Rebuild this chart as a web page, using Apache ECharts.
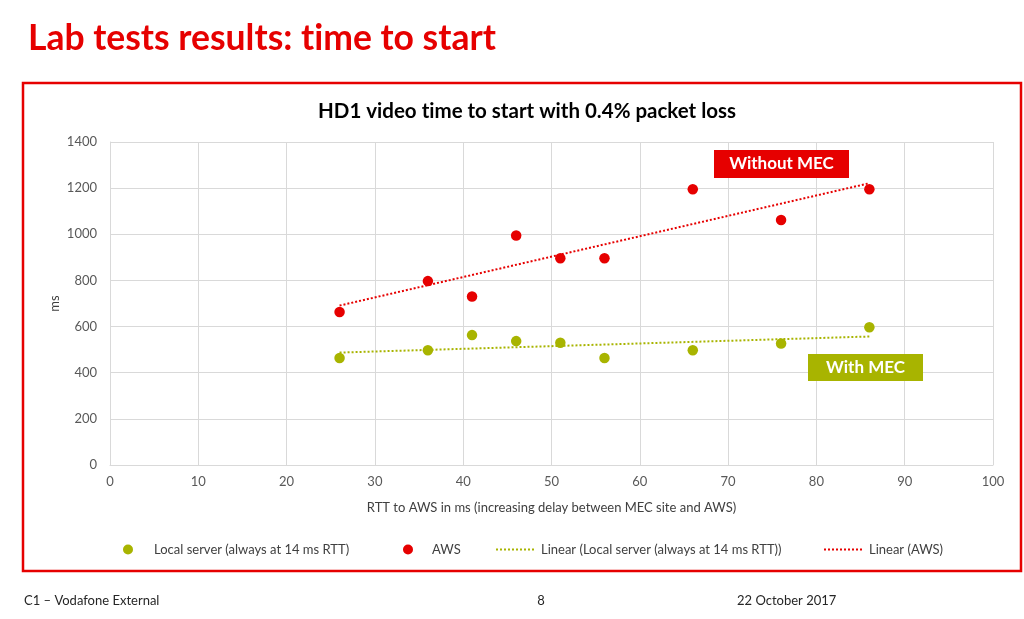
<!DOCTYPE html>
<html>
<head>
<meta charset="utf-8">
<script src="https://cdn.jsdelivr.net/npm/echarts@6/dist/echarts.min.js"></script>
<style>
html,body{margin:0;padding:0;background:#fff;}
#c{width:1024px;height:619px;}
</style>
</head>
<body>
<div id="c"></div>
<script>
// ---- data ----
const rttValues = [26, 36, 41, 46, 51, 56, 66, 76, 86];
const localServerMs = [464, 497, 563, 537, 530, 464, 497, 527, 597];
const awsMs = [663, 797, 730, 995, 896, 896, 1195, 1062, 1195];
const xTicks = [0, 10, 20, 30, 40, 50, 60, 70, 80, 90, 100];
const yTicks = [0, 200, 400, 600, 800, 1000, 1200, 1400];

const seriesNames = {
  local: 'Local server (always at 14 ms RTT)',
  aws: 'AWS',
  linLocal: 'Linear (Local server (always at 14 ms RTT))',
  linAws: 'Linear (AWS)'
};

const RED = '#e60000';
const GREEN = '#a8b400';
const FONT = 'Lato';
const ZWNJ = '\u200C'; // avoid the "ti" ligature of Lato

function pairs(xs, ys) { return xs.map((x, i) => [x, ys[i]]); }
// least-squares linear trendline (like Excel's "Linear" trendline)
function trend(xs, ys) {
  const n = xs.length;
  const mx = xs.reduce((a, b) => a + b, 0) / n;
  const my = ys.reduce((a, b) => a + b, 0) / n;
  let sxy = 0, sxx = 0;
  for (let i = 0; i < n; i++) { sxy += (xs[i] - mx) * (ys[i] - my); sxx += (xs[i] - mx) ** 2; }
  const b = sxy / sxx, a = my - b * mx;
  const x0 = Math.min(...xs), x1 = Math.max(...xs);
  return [[x0, a + b * x0], [x1, a + b * x1]];
}

const chart = echarts.init(document.getElementById('c'), null, {renderer: 'canvas'});

const legendBase = {
  orient: 'horizontal',
  top: 543,
  padding: 0,
  itemHeight: 10,
  textStyle: {fontFamily: FONT, fontSize: 13, color: '#404040'},
  selectedMode: false
};
function ts(pad) { return Object.assign({}, legendBase.textStyle, {padding: [0, 0, 0, pad]}); }

chart.setOption({
  backgroundColor: '#ffffff',
  animation: false,
  title: [
    {text: 'Lab tests results: t' + ZWNJ + 'ime to start', left: 23, top: 16,
     textStyle: {fontFamily: FONT, fontWeight: 'bold', fontSize: 35.5, color: RED}},
    {text: 'HD1 video t' + ZWNJ + 'ime to start with 0.4% packet loss', left: 313, top: 96,
     textStyle: {fontFamily: FONT, fontWeight: 'bold', fontSize: 20.5, color: '#000'}}
  ],
  grid: {left: 110, right: 31, top: 142, bottom: 154},
  xAxis: {
    type: 'value', min: xTicks[0], max: xTicks[xTicks.length - 1], interval: 10,
    name: 'RTT to AWS in ms (increasing delay between MEC site and AWS)',
    nameLocation: 'middle', nameGap: 36,
    nameTextStyle: {fontFamily: FONT, fontSize: 13, color: '#404040'},
    axisLine: {lineStyle: {color: '#d9d9d9', width: 1}},
    axisTick: {show: false},
    axisLabel: {fontFamily: FONT, fontSize: 13, color: '#595959', margin: 10},
    splitLine: {show: true, lineStyle: {color: '#d9d9d9', width: 1}}
  },
  yAxis: {
    type: 'value', min: yTicks[0], max: yTicks[yTicks.length - 1], interval: 200,
    name: 'ms', nameLocation: 'middle', nameGap: 49, nameMoveOverlap: false,
    nameTextStyle: {fontFamily: FONT, fontSize: 13, color: '#404040'},
    axisLine: {show: true, lineStyle: {color: '#d9d9d9', width: 1}},
    axisTick: {show: false},
    axisLabel: {fontFamily: FONT, fontSize: 13, color: '#595959', margin: 13,
                formatter: v => String(v)},
    splitLine: {show: true, lineStyle: {color: '#d9d9d9', width: 1}}
  },
  legend: [
    Object.assign({}, legendBase, {left: 123, itemWidth: 10, data: [{name: seriesNames.local, icon: 'circle'}], textStyle: ts(16)}),
    Object.assign({}, legendBase, {left: 403, itemWidth: 10, data: [{name: seriesNames.aws, icon: 'circle'}], textStyle: ts(14)}),
    Object.assign({}, legendBase, {left: 495, itemWidth: 38, data: [seriesNames.linLocal], textStyle: ts(2),
      itemStyle: {opacity: 0}}),
    Object.assign({}, legendBase, {left: 823, itemWidth: 38, data: [seriesNames.linAws], textStyle: ts(2),
      itemStyle: {opacity: 0}})
  ],
  series: [
    {name: seriesNames.linLocal, type: 'line', data: trend(rttValues, localServerMs), symbol: 'none',
     lineStyle: {color: GREEN, width: 2, type: [2, 2]}, itemStyle: {color: GREEN}, z: 1},
    {name: seriesNames.linAws, type: 'line', data: trend(rttValues, awsMs), symbol: 'none',
     lineStyle: {color: RED, width: 2, type: [2, 2]}, itemStyle: {color: RED}, z: 1},
    {name: seriesNames.local, type: 'scatter', data: pairs(rttValues, localServerMs),
     symbolSize: 10.5, itemStyle: {color: GREEN, opacity: 1}, z: 3},
    {name: seriesNames.aws, type: 'scatter', data: pairs(rttValues, awsMs),
     symbolSize: 10.5, itemStyle: {color: RED, opacity: 1}, z: 3}
  ],
  graphic: [
    {type: 'rect', shape: {x: 23, y: 83, width: 998, height: 488},
     style: {fill: 'none', stroke: RED, lineWidth: 2.5}, z: 0},
    {type: 'rect', shape: {x: 714, y: 150, width: 135, height: 28}, style: {fill: RED}, z: 10},
    {type: 'text', x: 781.5, y: 164, z: 11,
     style: {text: 'Without MEC', fill: '#fff', font: 'bold 17px Lato', align: 'center', verticalAlign: 'middle'}},
    {type: 'rect', shape: {x: 808, y: 354, width: 115, height: 27}, style: {fill: GREEN}, z: 10},
    {type: 'text', x: 865.5, y: 367.5, z: 11,
     style: {text: 'With MEC', fill: '#fff', font: 'bold 17px Lato', align: 'center', verticalAlign: 'middle'}},
    {type: 'text', x: 24, y: 601,
     style: {text: 'C1 – Vodafone External', fill: '#262626', font: '13px Lato', align: 'left', verticalAlign: 'middle'}},
    {type: 'text', x: 541, y: 601,
     style: {text: '8', fill: '#262626', font: '13px Lato', align: 'center', verticalAlign: 'middle'}},
    {type: 'text', x: 737, y: 601,
     style: {text: '22 October 2017', fill: '#262626', font: '13px Lato', align: 'left', verticalAlign: 'middle'}}
  ]
});
</script>
</body>
</html>
